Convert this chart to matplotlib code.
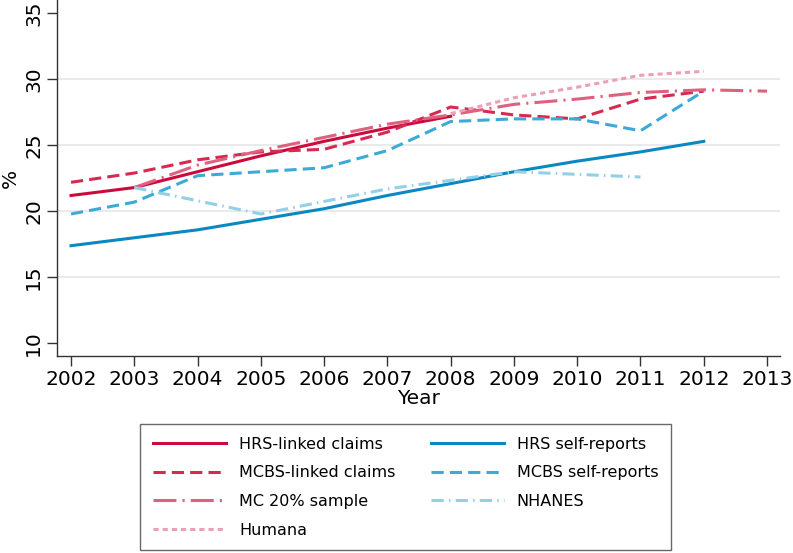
import matplotlib
matplotlib.use("Agg")
import matplotlib.pyplot as plt

years = list(range(2002, 2014))

# series values (%)
hrs_claims_years = [2002, 2003, 2004, 2005, 2006, 2007, 2008]
hrs_claims = [21.2, 21.8, 23.0, 24.2, 25.3, 26.3, 27.2]

mcbs_claims_years = list(range(2002, 2013))
mcbs_claims = [22.2, 22.9, 23.9, 24.5, 24.7, 26.0, 27.9, 27.3, 27.0, 28.5, 29.1]

mc20_years = list(range(2003, 2014))
mc20 = [21.8, 23.5, 24.6, 25.6, 26.6, 27.3, 28.1, 28.5, 29.0, 29.2, 29.1]

humana_years = [2008, 2009, 2010, 2011, 2012]
humana = [27.4, 28.6, 29.4, 30.3, 30.6]

hrs_self_years = list(range(2002, 2013))
hrs_self = [17.4, 18.0, 18.6, 19.4, 20.2, 21.2, 22.1, 23.0, 23.8, 24.5, 25.3]

mcbs_self_years = list(range(2002, 2013))
mcbs_self = [19.8, 20.7, 22.7, 23.0, 23.3, 24.6, 26.8, 27.0, 27.0, 26.1, 29.1]

nhanes_years = [2003, 2005, 2007, 2009, 2011]
nhanes = [21.8, 19.8, 21.7, 23.0, 22.6]

RED1 = "#CB0A3D"
RED2 = "#D52A52"
RED3 = "#E0607F"
RED4 = "#EBA0B6"
BLUE1 = "#0A88C2"
BLUE2 = "#3DAAD6"
BLUE3 = "#93CFE6"

plt.rcParams["font.family"] = ["DejaVu Sans"]

fig = plt.figure(figsize=(7.93, 5.53), dpi=100)
ax = fig.add_axes([0.072, 0.356, 0.912, 0.644])

lw = 2.2
ax.plot(hrs_claims_years, hrs_claims, color=RED1, lw=lw, label="HRS-linked claims")
ax.plot(mcbs_claims_years, mcbs_claims, color=RED2, lw=lw, dashes=(4, 2),
        label="MCBS-linked claims")
ax.plot(mc20_years, mc20, color=RED3, lw=lw, dashes=(7.5, 2, 0.7, 2),
        label="MC 20% sample")
ax.plot(humana_years, humana, color=RED4, lw=lw, dashes=(1.7, 1.3), label="Humana")
ax.plot(hrs_self_years, hrs_self, color=BLUE1, lw=lw, label="HRS self-reports")
ax.plot(mcbs_self_years, mcbs_self, color=BLUE2, lw=lw, dashes=(4, 2),
        label="MCBS self-reports")
ax.plot(nhanes_years, nhanes, color=BLUE3, lw=lw, dashes=(4, 1.7, 0.5, 1.7),
        label="NHANES")

ax.set_xlim(2001.78, 2013.21)
ax.set_ylim(9.04, 36.0)
ax.set_xticks(years)
ax.set_yticks([10, 15, 20, 25, 30, 35])
for g in [15, 20, 25, 30]:
    ax.axhline(g, color="#E6E6E6", lw=1.2, zorder=0)

ax.tick_params(axis="both", labelsize=14.5, length=7, width=1, color="#333333", pad=3)
plt.setp(ax.get_yticklabels(), rotation=90, va="center")
ax.set_xlabel("Year", fontsize=14.5, labelpad=0)
ax.set_ylabel("%", fontsize=14.5, labelpad=3)

for s in ["top", "right"]:
    ax.spines[s].set_visible(False)
for s in ["left", "bottom"]:
    ax.spines[s].set_color("#333333")
    ax.spines[s].set_linewidth(1)

handles, labels = ax.get_legend_handles_labels()
leg = fig.legend(handles, labels, ncol=2, loc="upper left",
                 bbox_to_anchor=(140 / 793, 1 - 424 / 553),
                 borderaxespad=0, fontsize=11.5,
                 handlelength=4.6, handletextpad=0.8, columnspacing=2.2,
                 labelspacing=0.85, borderpad=0.8, fancybox=False, frameon=True)
leg.get_frame().set_edgecolor("#444444")
leg.get_frame().set_linewidth(1)

fig.savefig("out.png", dpi=100)
